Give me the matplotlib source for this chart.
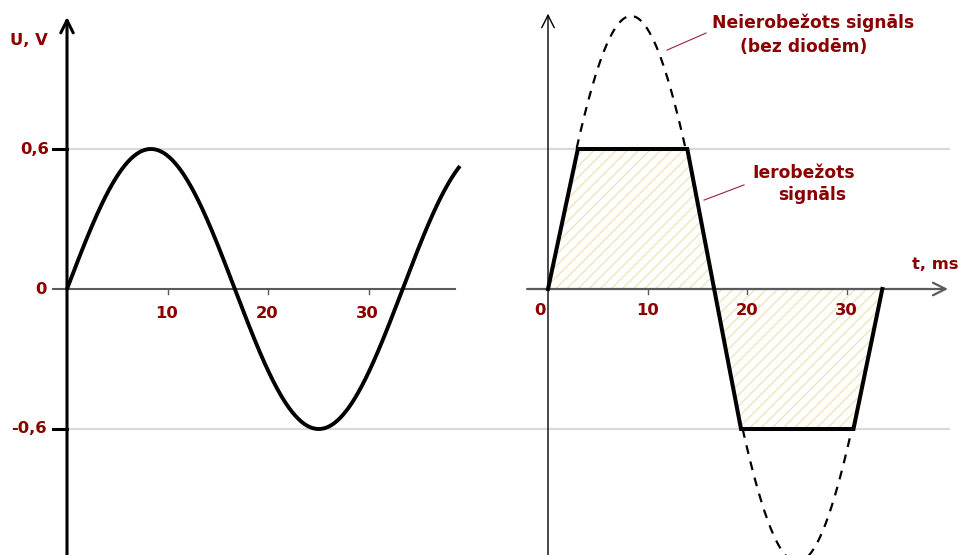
import numpy as np
import matplotlib.pyplot as plt

# sine parameters
amp_in = 0.6          # V, left signal
amp_free = 1.17       # V, unclipped signal (dashed)
period = 33.4         # ms
t_end_left = 39.1     # ms

# clipped signal corners
clip_t = [0, 3.0, 14.0, 19.4, 30.7, 33.6]
clip_u = [0, 0.6, 0.6, -0.6, -0.6, 0]

y_ticks = [0.6, 0, -0.6]
y_tick_labels = ['0,6', '0', '-0,6']
x_ticks = [10, 20, 30]
x_tick_labels = ['10', '20', '30']

red = '#8b0000'
grey_axis = '#5a5a5a'
grid_col = '#d9d9d9'
fnt = dict(family='DejaVu Sans', weight='bold', color=red, fontsize=11.8)
fnt_note = dict(fnt, fontsize=12.3)

plt.rcParams['hatch.linewidth'] = 0.8

fig = plt.figure(figsize=(9.61, 5.55), dpi=100)
ylim = (-(555 - 289) / 233.33, 289 / 233.33)

axL = fig.add_axes([0, 0, 480 / 961, 1])
axL.set_xlim(-67 / 10.05, (480 - 67) / 10.05)
axR = fig.add_axes([480 / 961, 0, 481 / 961, 1])
axR.set_xlim((480 - 548) / 9.95, (961 - 548) / 9.95)
for ax in (axL, axR):
    ax.set_ylim(*ylim)
    ax.axis('off')
    ax.patch.set_alpha(0)

# grid lines at +-0.6 spanning both panels
for y in (0.6, -0.6):
    axL.plot([0, (950 - 67) / 10.05], [y, y], color=grid_col, lw=1.6,
             clip_on=False, zorder=0, solid_capstyle='butt')

# ---- left panel ----
t = np.linspace(0, t_end_left, 400)
axL.plot(t, amp_in * np.sin(2 * np.pi * t / period), color='black', lw=2.8,
         zorder=3, solid_capstyle='butt')
axL.plot([-1.4, 38.6], [0, 0], color=grey_axis, lw=1.5, zorder=2)
axL.annotate('', xy=(0, 1.166), xytext=(0, ylim[0]),
             arrowprops=dict(arrowstyle='->,head_length=0.9,head_width=0.45',
                             lw=2.2, color='black', shrinkA=0, shrinkB=0),
             zorder=4)
for y in (0.6, -0.6):
    axL.plot([-1.4, 0], [y, y], color='black', lw=2.2, zorder=4)
for xt in x_ticks:
    axL.plot([xt, xt], [0, -0.02], color=grey_axis, lw=1)
axL.text(-1.89, 1.067, 'U, V', ha='right', va='center', **fnt)
for y, lab in zip(y_ticks, y_tick_labels):
    axL.text(-2.0 if y <= 0 else -1.8, y, lab, ha='right', va='center', **fnt)
for xt, lab in zip(x_ticks, x_tick_labels):
    axL.text(xt - 0.1, -0.103, lab, ha='center', va='center', **fnt)

# ---- right panel ----
axR.fill(clip_t, clip_u, facecolor='none', edgecolor='#f0dfae', hatch='///',
         lw=0, zorder=1)
axR.plot(clip_t, clip_u, color='black', lw=2.9, zorder=3,
         solid_joinstyle='miter')
tf = np.linspace(0, period, 800)
uf = amp_free * np.sin(2 * np.pi * tf / period)
uf[np.abs(uf) < 0.6] = np.nan
axR.plot(tf, uf, color='black', lw=1.6, ls=(0, (4, 3.5)), zorder=3,
         clip_on=False)
axR.annotate('', xy=(40.2, 0), xytext=(-2.1, 0),
             arrowprops=dict(arrowstyle='->,head_length=0.9,head_width=0.45',
                             lw=1.6, color=grey_axis, shrinkA=0, shrinkB=0),
             zorder=2)
axR.annotate('', xy=(0, 1.18), xytext=(0, ylim[0]),
             arrowprops=dict(arrowstyle='->,head_length=0.9,head_width=0.45',
                             lw=1.0, color='black', shrinkA=0, shrinkB=0),
             zorder=4)
for xt in x_ticks:
    axR.plot([xt, xt], [0, -0.02], color=grey_axis, lw=1)
axR.text(-0.8, -0.094, '0', ha='center', va='center', **fnt)
for xt, lab in zip(x_ticks, x_tick_labels):
    axR.text(xt, -0.094, lab, ha='center', va='center', **fnt)
axR.text(38.9, 0.103, 't, ms', ha='center', va='center', **fnt)

axR.text(16.48, 1.14, 'Neierobežots signāls', ha='left', va='center', **fnt_note)
axR.text(19.3, 1.037, '(bez diodēm)', ha='left', va='center', **fnt_note)
axR.plot([11.96, 15.88], [1.024, 1.097], color='#9b2335', lw=0.8)
axR.text(20.5, 0.497, 'Ierobežots', ha='left', va='center', **fnt_note)
axR.text(23.1, 0.403, 'signāls', ha='left', va='center', **fnt_note)
axR.plot([15.68, 19.70], [0.381, 0.446], color='#9b2335', lw=0.8)

fig.savefig('out.png', dpi=100)
